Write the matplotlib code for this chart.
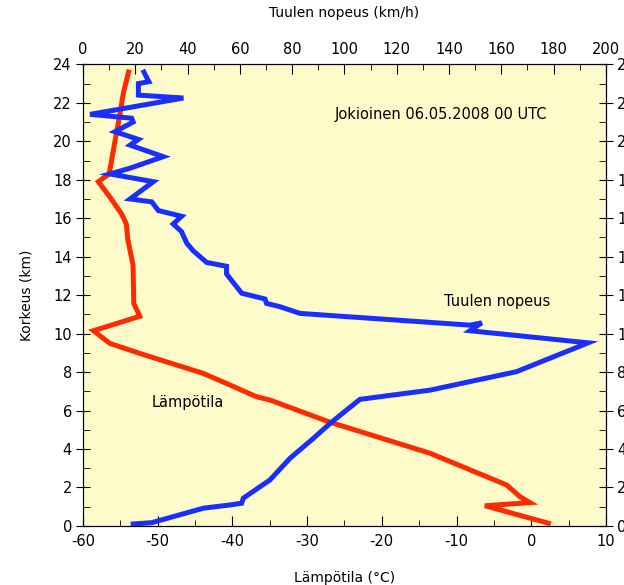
import numpy as np
import matplotlib.pyplot as plt
from matplotlib.ticker import MultipleLocator

plt.rcParams['axes.unicode_minus'] = False

# Lämpötila (red)
temp_h = [23.6, 22.5, 21.3, 20.05, 18.84, 18.3, 17.9, 17.1, 16.2, 15.7, 14.9,
          13.56, 11.57, 10.9, 10.15, 9.49, 8.97, 7.93, 7.41, 6.72, 6.55, 5.4,
          3.78, 2.13, 1.52, 1.21, 1.05, 0.14]
temp_c = [-53.9, -54.6, -55.1, -55.7, -56.25, -56.5, -57.95, -56.4, -54.8, -54.2, -54.0,
          -53.3, -53.2, -52.4, -58.6, -56.4, -52.4, -43.9, -40.8, -36.8, -35.0, -27.0,
          -13.55, -3.3, -1.5, -0.16, -6.2, 2.3]

# Tuulen nopeus (blue)
wind_h = [23.6, 23.1, 23.0, 22.4, 22.25, 21.4, 21.2, 21.0, 20.5, 20.1, 19.8,
          19.2, 18.6, 18.3, 17.9, 17.0, 16.85, 16.4, 16.1, 15.7, 15.3, 14.7,
          14.3, 13.7, 13.5, 13.1, 12.1, 11.8, 11.57, 11.4, 11.05, 10.44, 10.56,
          10.15, 9.52, 8.02, 7.06, 6.58, 5.33, 4.55, 3.52, 2.39, 1.44, 1.18,
          1.09, 0.92, 0.17, 0.1]
wind_v = [23.3, 25.2, 21.2, 21.2, 38.4, 2.7, 18.6, 19.2, 12.2, 21.2, 18.0,
          30.7, 18.0, 10.3, 26.9, 18.0, 26.3, 28.8, 37.7, 34.5, 37.7, 39.7,
          42.2, 47.3, 54.9, 54.9, 60.7, 69.6, 70.2, 75.3, 83.0, 148.0, 152.5,
          148.0, 193.2, 165.8, 132.7, 105.9, 94.5, 88.1, 79.2, 71.5, 61.3, 60.7,
          56.2, 46.0, 26.3, 19.2]

fig = plt.figure(figsize=(6.24, 5.85), dpi=100)
ax = fig.add_axes([0.133, 0.101, 0.838, 0.789])
ax.set_facecolor('#fefbcb')

ax.plot(temp_c, temp_h, color='#ff2a00', linewidth=3.6, solid_joinstyle='miter', zorder=3)
ax.set_xlim(-60, 10)
ax.set_ylim(0, 24)
ax.xaxis.set_major_locator(MultipleLocator(10))
ax.xaxis.set_minor_locator(MultipleLocator(5))
ax.yaxis.set_major_locator(MultipleLocator(2))
ax.yaxis.set_minor_locator(MultipleLocator(1))
ax.set_xlabel('Lämpötila (°C)', fontsize=10, labelpad=16)
ax.set_ylabel('Korkeus (km)', fontsize=10, labelpad=14)

ax2 = ax.twiny()
ax2.plot(wind_v, wind_h, color='#1a2fff', linewidth=3.6, solid_joinstyle='miter', zorder=2)
ax2.set_xlim(0, 200)
ax2.xaxis.set_major_locator(MultipleLocator(20))
ax2.xaxis.set_minor_locator(MultipleLocator(10))
ax2.set_xlabel('Tuulen nopeus (km/h)', fontsize=10, labelpad=18)

ax.tick_params(axis='x', which='major', direction='in', length=7, labelsize=10.5, pad=6, top=False)
ax.tick_params(axis='x', which='minor', direction='in', length=4, top=False)
ax.tick_params(axis='y', which='major', direction='inout', length=10, labelsize=10.5,
               right=True, labelright=True, pad=3)
ax.tick_params(axis='y', which='minor', direction='in', length=5, right=True)
ax2.tick_params(axis='x', which='major', direction='in', length=7, labelsize=10.5, pad=5)
ax2.tick_params(axis='x', which='minor', direction='in', length=4)

ax.text(-12.1, 21.4, 'Jokioinen 06.05.2008 00 UTC', fontsize=10.5, ha='center', va='center')
ax.text(-4.6, 11.69, 'Tuulen nopeus', fontsize=10.5, ha='center', va='center')
ax.text(-46.0, 6.44, 'Lämpötila', fontsize=10.5, ha='center', va='center')

plt.savefig('out.png', dpi=100)
